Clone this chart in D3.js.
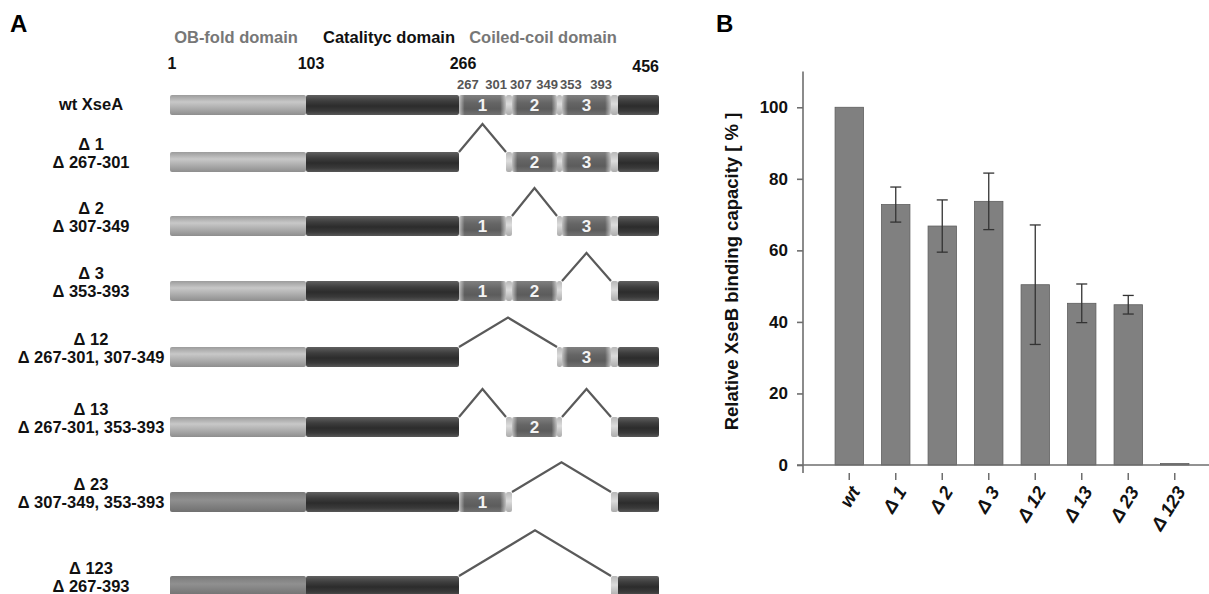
<!DOCTYPE html>
<html>
<head>
<meta charset="utf-8">
<script src="https://cdn.jsdelivr.net/npm/d3@7"></script>
<style>
  body { margin: 0; background: #fff; }
  svg { display: block; font-family: "Liberation Sans", Arial, Helvetica, sans-serif; font-weight: bold; }
</style>
</head>
<body>
<svg id="fig" width="1209" height="594"></svg>
<script>
// ---- panel A : XseA constructs ----
const constructs = ["wt XseA", "Δ 1", "Δ 2", "Δ 3", "Δ 12", "Δ 13", "Δ 23", "Δ 123"];
const deletionText = ["", "Δ 267-301", "Δ 307-349", "Δ 353-393", "Δ 267-301, 307-349",
                      "Δ 267-301, 353-393", "Δ 307-349, 353-393", "Δ 267-393"];
const deletedRegions = [[], [1], [2], [3], [1, 2], [1, 3], [2, 3], [1, 2, 3]];
const domainNames = ["OB-fold domain", "Catalityc domain", "Coiled-coil domain"];
const domainBounds = [1, 103, 266, 456];
const regionBounds = [[267, 301], [307, 349], [353, 393]];

// wt segments, residue start (incl.) -> end (excl.)
const segStarts = [1, 103, 267, 302, 307, 350, 353, 394, 403];
const segEnds   = [103, 267, 302, 307, 350, 353, 394, 403, 457];
const segKinds  = ["ob", "cat", "box", "link", "box", "link", "box", "link", "cat"];
const segRegion = [0, 0, 1, 0, 2, 0, 3, 0, 0];

// ---- panel B : binding ----
const strains = ["wt", "Δ 1", "Δ 2", "Δ 3", "Δ 12", "Δ 13", "Δ 23", "Δ 123"];
const binding = [100, 72.8, 66.8, 73.7, 50.4, 45.2, 44.8, 0.4];
const bindingErr = [0, 4.9, 7.3, 7.9, 16.7, 5.4, 2.6, 0];
const yTicks = [0, 20, 40, 60, 80, 100];

const svg = d3.select("#fig");
const defs = svg.append("defs");

function vGrad(id, stops) {
    const g = defs.append("linearGradient").attr("id", id)
        .attr("x1", 0).attr("y1", 0).attr("x2", 0).attr("y2", 1);
    stops.forEach(s => g.append("stop").attr("offset", s[0]).attr("stop-color", s[1]));
}
vGrad("g-ob", [[0, "#9c9c9c"], [0.35, "#c8c8c8"], [0.6, "#b2b2b2"], [1, "#8e8e8e"]]);
vGrad("g-ob-dark", [[0, "#7a7a7a"], [0.4, "#909090"], [1, "#707070"]]);
vGrad("g-cat", [[0, "#606060"], [0.3, "#3e3e3e"], [0.55, "#2c2c2c"], [0.8, "#3a3a3a"], [1, "#575757"]]);
vGrad("g-box", [[0, "#808080"], [0.4, "#656565"], [0.7, "#5c5c5c"], [1, "#727272"]]);
vGrad("g-link", [[0, "#b8b8b8"], [0.45, "#dcdcdc"], [1, "#acacac"]]);
const edge = defs.append("linearGradient").attr("id", "g-edge");
[[0, 0.6], [0.12, 0], [0.88, 0], [1, 0.6]].forEach(s =>
    edge.append("stop").attr("offset", s[0]).attr("stop-color", "#fff").attr("stop-opacity", s[1]));

// residue -> x, the figure is not drawn to scale so the scale is piecewise
const xRes = d3.scaleLinear()
    .domain([1, 103, 267, 302, 307, 350, 353, 394, 403, 457])
    .range([170, 306, 459, 506, 512, 557, 562, 611, 618, 659]);

const rowY = [105, 162, 226, 291, 357, 427, 502, 586]; // bar centres
const barH = 20;
const darkOB = new Set(["Δ 23", "Δ 123"]);

const A = svg.append("g");
A.append("text").attr("x", 10).attr("y", 32).attr("font-size", 24).text("A");

// domain headers
const headX = [236, 389, 543];
A.selectAll(".head").data(domainNames).enter().append("text")
    .attr("x", (d, i) => headX[i]).attr("y", 43)
    .attr("text-anchor", "middle").attr("font-size", 16.5)
    .attr("fill", (d, i) => i === 1 ? "#111" : "#777")
    .text(d => d);

// residue numbers
A.selectAll(".num").data(domainBounds).enter().append("text")
    .attr("x", (d, i) => i === 3 ? xRes(457) : xRes(d) + (i === 0 ? 2 : 5))
    .attr("y", (d, i) => i === 3 ? 72 : 69)
    .attr("text-anchor", (d, i) => i === 3 ? "end" : "middle")
    .attr("font-size", 16).attr("fill", "#111")
    .text(d => d);

// coiled-coil sub numbers
const subNums = regionBounds.flatMap(r => [{ v: r[0], s: true }, { v: r[1], s: false }]);
A.selectAll(".sub").data(subNums).enter().append("text")
    .attr("x", d => d.s ? xRes(d.v) - 2 : xRes(d.v + 1) + 1)
    .attr("y", 89)
    .attr("text-anchor", d => d.s ? "start" : "end")
    .attr("font-size", 13).attr("fill", "#555")
    .text(d => d.v);

constructs.forEach((name, i) => {
    const del = new Set(deletedRegions[i]);
    const isDel = segKinds.map((k, j) => {
        if (k === "box") return del.has(segRegion[j]);
        if (k === "link") return segKinds[j - 1] === "box" && segKinds[j + 1] === "box" &&
            del.has(segRegion[j - 1]) && del.has(segRegion[j + 1]);
        return false;
    });
    const g = A.append("g").attr("transform", `translate(0,${rowY[i] - barH / 2})`);

    // labels on the left
    if (deletionText[i]) {
        g.append("text").attr("x", 91).attr("y", barH / 2 - 12.5).attr("text-anchor", "middle")
            .attr("font-size", 16.5).attr("fill", "#111").text(name);
        g.append("text").attr("x", 91).attr("y", barH / 2 + 5.5).attr("text-anchor", "middle")
            .attr("font-size", 16.5).attr("fill", "#111").text(deletionText[i]);
    } else {
        g.append("text").attr("x", 91).attr("y", barH / 2 + 5).attr("text-anchor", "middle")
            .attr("font-size", 16.5).attr("fill", "#111").text(name);
    }

    segKinds.forEach((k, j) => {
        if (isDel[j]) return;
        const x0 = xRes(segStarts[j]), x1 = xRes(segEnds[j]);
        let fill = "url(#g-" + k + ")";
        if (k === "ob" && darkOB.has(name)) fill = "url(#g-ob-dark)";
        g.append("rect").attr("x", x0).attr("y", 0).attr("width", x1 - x0).attr("height", barH)
            .attr("rx", 2).attr("fill", fill);
        if (k === "box") {
            g.append("rect").attr("x", x0).attr("y", 0).attr("width", x1 - x0).attr("height", barH)
                .attr("fill", "url(#g-edge)");
            g.append("text").attr("x", (x0 + x1) / 2).attr("y", barH / 2 + 6)
                .attr("text-anchor", "middle").attr("font-size", 17).attr("fill", "#f4f4f4")
                .text(segRegion[j]);
        }
    });

    // deleted runs drawn as a peak
    let run = null;
    const runs = [];
    isDel.forEach((d, j) => {
        if (d) {
            if (!run) run = [segStarts[j], segEnds[j]];
            else run[1] = segEnds[j];
        } else if (run) { runs.push(run); run = null; }
    });
    if (run) runs.push(run);
    runs.forEach(r => {
        const x0 = xRes(r[0]), x1 = xRes(r[1]);
        const h = Math.max(28, 0.3 * (x1 - x0));
        g.append("path")
            .attr("d", `M${x0},0L${(x0 + x1) / 2},${-h}L${x1},0`)
            .attr("fill", "none").attr("stroke", "#5a5a5a").attr("stroke-width", 2.2);
    });
});

// ---- panel B ----
const B = svg.append("g");
B.append("text").attr("x", 716).attr("y", 32).attr("font-size", 24).text("B");

const x = d3.scaleBand().domain(strains).range([826, 1198]).paddingInner(0.39).paddingOuter(0.195);
const y = d3.scaleLinear().domain([0, 110]).range([465, 71.5]);
const axisX = 803;

B.selectAll(".bar").data(strains).enter().append("rect")
    .attr("x", d => x(d)).attr("width", x.bandwidth())
    .attr("y", (d, i) => y(binding[i]))
    .attr("height", (d, i) => y(0) - y(binding[i]))
    .attr("fill", "#808080").attr("stroke", "#5e5e5e").attr("stroke-width", 0.8);

// error bars
const errG = B.append("g").attr("stroke", "#333").attr("stroke-width", 1.3);
strains.forEach((d, i) => {
    if (!bindingErr[i]) return;
    const cx = x(d) + x.bandwidth() / 2;
    const hi = y(binding[i] + bindingErr[i]), lo = y(binding[i] - bindingErr[i]);
    errG.append("line").attr("x1", cx).attr("x2", cx).attr("y1", hi).attr("y2", lo);
    errG.append("line").attr("x1", cx - 5.5).attr("x2", cx + 5.5).attr("y1", hi).attr("y2", hi);
    errG.append("line").attr("x1", cx - 5.5).attr("x2", cx + 5.5).attr("y1", lo).attr("y2", lo);
});

// y axis
const yAxis = B.append("g").attr("transform", `translate(${axisX},0)`)
    .call(d3.axisLeft(y).tickValues(yTicks).tickSize(6).tickPadding(9));
yAxis.select(".domain").remove();
yAxis.selectAll(".tick line").attr("stroke", "#6e6e6e").attr("stroke-width", 1.6);
yAxis.selectAll(".tick text").attr("font-size", 17).attr("font-weight", "bold")
    .attr("font-family", "'Liberation Sans', Arial, sans-serif").attr("fill", "#111");
B.append("line").attr("x1", axisX).attr("x2", axisX).attr("y1", y(110)).attr("y2", y(0) + 8)
    .attr("stroke", "#6e6e6e").attr("stroke-width", 1.6);
B.append("line").attr("x1", axisX - 6).attr("x2", 1209).attr("y1", y(0)).attr("y2", y(0))
    .attr("stroke", "#6e6e6e").attr("stroke-width", 1.6);

// x ticks, set off below the axis line
const xAxis = B.append("g").attr("transform", `translate(0,${y(0) + 8})`)
    .call(d3.axisBottom(x).tickSize(7).tickFormat(""));
xAxis.select(".domain").remove();
xAxis.selectAll(".tick line").attr("stroke", "#6e6e6e").attr("stroke-width", 1.5);

B.selectAll(".xlab").data(strains).enter().append("text")
    .attr("transform", d => `translate(${x(d) + x.bandwidth() / 2 + 6},488) rotate(-58)`)
    .attr("text-anchor", "end").attr("dy", "0.35em")
    .attr("font-size", 18.5).attr("font-style", "italic").attr("fill", "#111")
    .text(d => d);

B.append("text")
    .attr("transform", `translate(738,271.5) rotate(-90)`)
    .attr("text-anchor", "middle").attr("font-size", 18.5).attr("fill", "#111")
    .text("Relative XseB binding capacity [ % ]");
</script>
</body>
</html>
